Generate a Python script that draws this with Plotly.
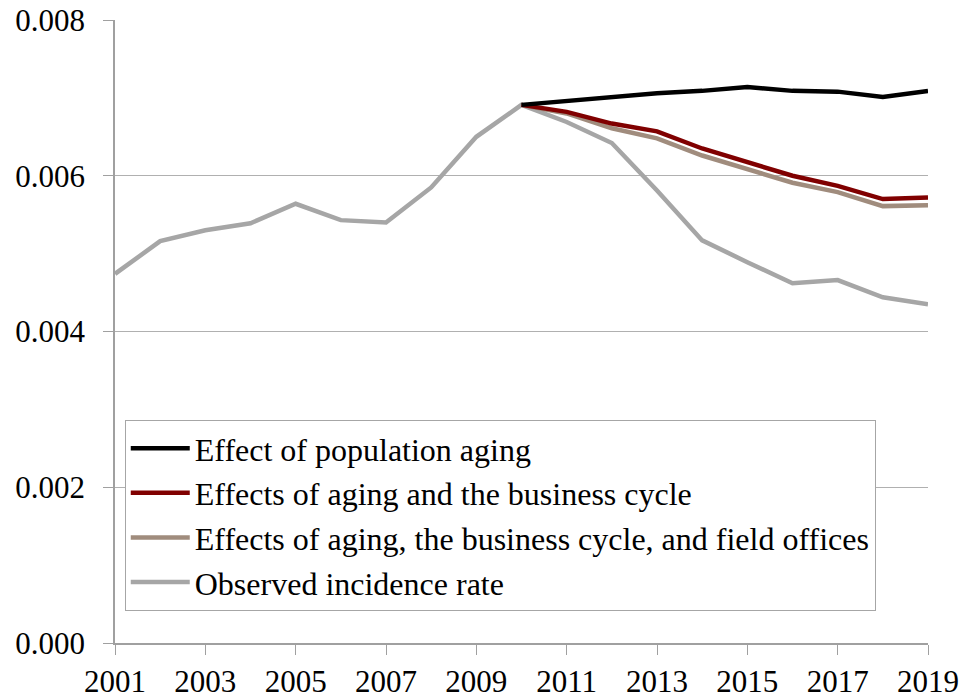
import plotly.graph_objects as go

years = list(range(2001, 2020))
years_proj = list(range(2010, 2020))

observed = [0.00474, 0.00516, 0.00530, 0.00539, 0.00564, 0.00543, 0.00540, 0.00585,
            0.00650, 0.00691, 0.00669, 0.00642, 0.00581, 0.00517, 0.00489, 0.00462,
            0.00466, 0.00444, 0.00435]
aging = [0.00691, 0.00696, 0.00701, 0.00706, 0.00709, 0.00714, 0.00709, 0.00708, 0.00701, 0.00709]
aging_cycle = [0.00691, 0.00682, 0.00667, 0.00657, 0.00635, 0.00617, 0.00600, 0.00587, 0.00570, 0.00572]
aging_cycle_offices = [0.00691, 0.00680, 0.00661, 0.00648, 0.00626, 0.00609, 0.00591, 0.00579, 0.00561, 0.00562]

names = ["Effect of population aging",
         "Effects of aging and the business cycle",
         "Effects of aging, the business cycle, and field offices",
         "Observed incidence rate"]
colors = ["#000000", "#800000", "#A08C7D", "#A6A6A6"]
series = [(years_proj, aging), (years_proj, aging_cycle),
          (years_proj, aging_cycle_offices), (years, observed)]

SERIF = "Liberation Serif"

fig = go.Figure()
# add observed first so it is drawn beneath the projections
for i in [3, 2, 1, 0]:
    xs, ys = series[i]
    fig.add_trace(go.Scatter(x=xs, y=ys, mode="lines", name=names[i],
                             line=dict(color=colors[i], width=4.5)))

fig.update_layout(
    width=963, height=700,
    margin=dict(l=115, r=35, t=20, b=57),
    paper_bgcolor="white", plot_bgcolor="white",
    font=dict(family=SERIF, color="black", size=31),
    legend=dict(x=0.012, y=0.358, xanchor="left", yanchor="top",
                bordercolor="#A6A6A6", borderwidth=1, bgcolor="white",
                traceorder="reversed", font=dict(family=SERIF, size=32, color="black"),
                tracegroupgap=0, itemwidth=59),
    showlegend=True,
)
fig.update_xaxes(range=[2001, 2019], tickmode="array", tickvals=list(range(2001, 2020, 2)),
                 ticks="outside", ticklen=10, tickcolor="#A0A0A0",
                 tickfont=dict(family=SERIF, size=31, color="black"),
                 showline=True, linecolor="#A0A0A0", linewidth=1.5,
                 showgrid=False, zeroline=False, automargin=False)
fig.update_yaxes(range=[0, 0.008], tickmode="array", tickvals=[0, 0.002, 0.004, 0.006, 0.008],
                 tickformat=".3f", ticks="outside", ticklen=10, tickcolor="#A0A0A0",
                 tickfont=dict(family=SERIF, size=31, color="black"),
                 ticklabelstandoff=12,
                 showline=True, linecolor="#A0A0A0", linewidth=1.5,
                 showgrid=True, gridcolor="#B0B0B0", gridwidth=1, zeroline=False,
                 automargin=False)

fig.write_html("out.html", config={"displayModeBar": False},
               post_script="document.body.style.margin='0';document.body.style.overflow='hidden';")
